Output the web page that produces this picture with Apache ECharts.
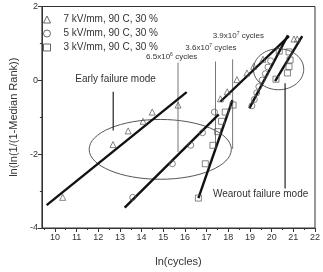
<!DOCTYPE html>
<html>
<head>
<meta charset="utf-8">
<script src="https://cdn.jsdelivr.net/npm/echarts@6/dist/echarts.min.js"></script>
<style>
html, body { margin: 0; padding: 0; background: #fff; }
#chart { width: 323px; height: 272px; }
</style>
</head>
<body>
<div id="chart"></div>
<script>
// legend names
const seriesNames = ['7 kV/mm, 90 C, 30 %', '5 kV/mm, 90 C, 30 %', '3 kV/mm, 90 C, 30 %'];

// measured points [ln(cycles), ln(ln(1/(1-MR)))]
const tri7 = [
    [10.36, -3.17], [12.68, -1.74], [13.38, -1.37], [14.07, -1.11], [14.49, -0.86], [15.68, -0.67],
    [17.64, -0.50], [17.95, -0.31], [18.40, 0.02], [18.86, 0.20], [19.17, 0.38], [19.60, 0.57],
    [21.03, 1.12], [21.18, 1.12]
];
const circ5 = [
    [13.59, -3.17], [15.42, -2.26], [16.27, -1.76], [16.81, -1.42], [17.36, -0.86],
    [19.09, -0.69], [19.20, -0.52], [19.31, -0.34], [19.41, -0.17], [19.56, 0.01],
    [19.71, 0.18], [19.83, 0.36], [19.95, 0.53]
];
const sq3 = [
    [16.62, -3.19], [16.94, -2.26], [17.29, -1.76], [17.51, -1.39], [17.69, -1.11], [17.86, -0.86], [18.22, -0.67],
    [20.20, 0.03], [20.73, 0.20], [20.80, 0.37], [20.85, 0.55], [20.35, 0.79], [20.80, 0.77]
];

// fitted lines (start, end)
const fitLines = [
    [[9.62, -3.38], [16.08, -0.32]],
    [[13.22, -3.45], [17.56, -0.92]],
    [[16.62, -3.19], [18.19, -0.54]],
    [[17.63, -0.58], [20.80, 1.20]],
    [[18.97, -0.76], [20.75, 1.22]],
    [[20.16, -0.02], [21.41, 1.20]]
];

// thin vertical lines: x, yTop, yBottom
const cycleLines = [[15.68, 0.48, -1.94], [17.41, 0.51, -1.94], [18.20, 0.57, -1.86]];
const leaderLines = [[12.69, -0.31, -1.36], [20.62, -0.08, -2.93]];

// ellipses: cx, cy, rx, ry (data units)
const ellipses = [[14.86, -1.87, 3.28, 0.81], [20.32, 0.30, 1.16, 0.555]];

// notes: text, x, y, size
const notes = [
    ['Early failure mode', 12.80, 0.03, 10],
    ['Wearout failure mode', 19.49, -3.09, 10],
    ['6.5x10{s|6} cycles', 15.39, 0.63, 8],
    ['3.6x10{s|7} cycles', 17.20, 0.88, 8],
    ['3.9x10{s|7} cycles', 18.46, 1.20, 8]
];

const xTicks = [10, 11, 12, 13, 14, 15, 16, 17, 18, 19, 20, 21, 22];
const xMinor = [9.5, 10.5, 11.5, 12.5, 13.5, 14.5, 15.5, 16.5, 17.5, 18.5, 19.5, 20.5, 21.5];

const font = 'Liberation Sans, Arial, sans-serif';
const markColor = '#555';
const myChart = echarts.init(document.getElementById('chart'));

function scatter(name, data, symbol) {
    return {
        name: name, type: 'scatter', data: data, symbol: symbol, symbolSize: 6, z: 4,
        itemStyle: { color: 'rgba(255,255,255,0)', borderColor: markColor, borderWidth: 0.9 }
    };
}

const series = [
    scatter(seriesNames[0], tri7, 'triangle'),
    scatter(seriesNames[1], circ5, 'circle'),
    scatter(seriesNames[2], sq3, 'rect')
];
fitLines.forEach(seg => series.push({
    type: 'line', data: seg, symbol: 'none', silent: true, z: 3,
    lineStyle: { color: '#111', width: 2.4 }
}));
cycleLines.concat(leaderLines).forEach((v, i) => series.push({
    type: 'line', data: [[v[0], v[1]], [v[0], v[2]]], symbol: 'none', silent: true, z: 2,
    lineStyle: { color: i < cycleLines.length ? '#777' : '#222', width: i < cycleLines.length ? 1 : 1.2 }
}));

const legendIcons = ['triangle', 'circle', 'rect'];

myChart.setOption({
    animation: false,
    textStyle: { fontFamily: font },
    grid: { left: 35, right: 7, top: 6.5, bottom: 36.7, show: true, borderColor: '#333', borderWidth: 1 },
    legend: {
        orient: 'vertical', left: 38, top: 9, itemWidth: 7, itemHeight: 7, itemGap: 3,
        textStyle: { fontSize: 10, color: '#333', fontFamily: font, padding: [0, 0, 0, 8], lineHeight: 11 },
        data: seriesNames.map((n, i) => ({
            name: n, icon: legendIcons[i],
            itemStyle: { color: 'rgba(255,255,255,0)', borderColor: '#444', borderWidth: 1 }
        }))
    },
    xAxis: [{
        type: 'value', min: 9.4, max: 22,
        name: 'ln(cycles)', nameLocation: 'middle', nameGap: 28,
        nameTextStyle: { fontSize: 11, color: '#333', fontFamily: font },
        splitLine: { show: false },
        axisLine: { onZero: false, lineStyle: { color: '#333' } },
        axisTick: { length: 4, customValues: xTicks, lineStyle: { color: '#333' } },
        axisLabel: { customValues: xTicks, fontSize: 9, color: '#333', margin: 5, fontFamily: font }
    }, {
        type: 'value', min: 9.4, max: 22, position: 'bottom',
        splitLine: { show: false },
        axisLine: { show: false, onZero: false },
        axisTick: { length: 2, customValues: xMinor, lineStyle: { color: '#333' } },
        axisLabel: { show: false }
    }],
    yAxis: {
        type: 'value', min: -4, max: 2, interval: 2,
        name: 'ln(ln(1/(1-Median Rank))', nameLocation: 'middle', nameGap: 22,
        nameTextStyle: { fontSize: 11, color: '#333', fontFamily: font },
        splitLine: { show: false },
        axisLine: { show: true, onZero: false, lineStyle: { color: '#333' } },
        axisTick: { show: true, length: 4, lineStyle: { color: '#333' } },
        minorTick: { show: true, splitNumber: 2, length: 2, lineStyle: { color: '#333' } },
        axisLabel: { fontSize: 9, color: '#333', margin: 4, fontFamily: font }
    },
    series: series
});

// annotations placed through the axes' scales
const graphic = [];
ellipses.forEach(e => {
    const c = myChart.convertToPixel({ gridIndex: 0 }, [e[0], e[1]]);
    const r = myChart.convertToPixel({ gridIndex: 0 }, [e[0] + e[2], e[1] + e[3]]);
    graphic.push({
        type: 'ellipse', silent: true, z: 1,
        shape: { cx: c[0], cy: c[1], rx: Math.abs(r[0] - c[0]), ry: Math.abs(c[1] - r[1]) },
        style: { fill: null, stroke: '#555', lineWidth: 1 }
    });
});
notes.forEach(n => {
    const p = myChart.convertToPixel({ gridIndex: 0 }, [n[1], n[2]]);
    graphic.push({
        type: 'text', silent: true, x: p[0], y: p[1], z: 5,
        style: {
            text: n[0], fontSize: n[3], fontFamily: font, fill: '#333',
            align: 'center', verticalAlign: 'middle',
            rich: { s: { fontSize: 5, fontFamily: font, fill: '#333', padding: [0, 0, 5, 0] } }
        }
    });
});
myChart.setOption({ graphic: graphic });

window.addEventListener('resize', function() {
    myChart.resize();
});
</script>
</body>
</html>
